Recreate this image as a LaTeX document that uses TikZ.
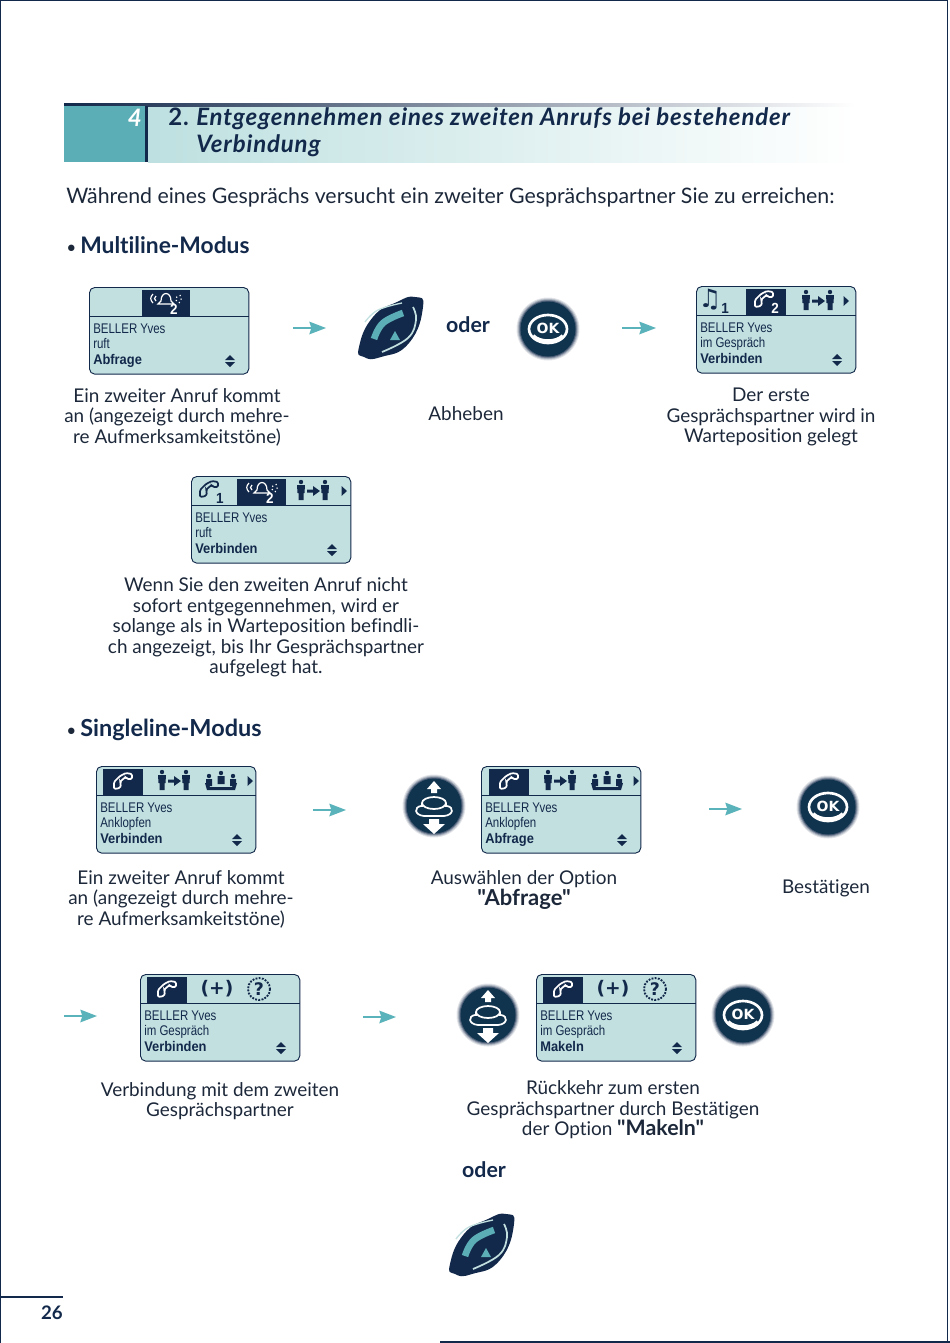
\documentclass[tikz,border=0pt]{standalone}
\usepackage{fontspec}
\newfontfamily\bodyfont[Ligatures=NoCommon]{Lato}
\newfontfamily\titlefont[Ligatures=NoCommon, LetterSpace=3.5]{Lato}
\newfontfamily\lcdfont[FakeStretch=0.82]{Liberation Sans}
\newfontfamily\lcdboldfont[FakeStretch=0.92]{Liberation Sans}
\newfontfamily\symfont{DejaVu Sans}
\usetikzlibrary{arrows.meta, positioning, calc}
\definecolor{PageNavy}{RGB}{19, 41, 75}
\definecolor{BodyInk}{RGB}{28, 40, 58}
\definecolor{LcdBlue}{RGB}{195, 224, 224}
\definecolor{BandTeal}{RGB}{92, 174, 182}
\definecolor{BandPale}{RGB}{190, 224, 224}
\definecolor{ArrTeal}{RGB}{90, 178, 186}
\definecolor{KeyNavy}{RGB}{16, 52, 78}
\tikzset{
  lcdbox/.style={rectangle, rounded corners=4pt, draw=PageNavy, fill=LcdBlue, line width=0.7pt,
                 minimum width=119.5pt, minimum height=65pt, anchor=north west, inner sep=0pt},
  lcdtext/.style={anchor=base west, inner sep=0pt, text=PageNavy, font=\lcdfont\fontsize{10.5}{10.5}\selectfont},
  lcdbold/.style={lcdtext, font=\lcdboldfont\bfseries\fontsize{10.5}{10.5}\selectfont},
  caption/.style={align=center, inner sep=0pt, text=BodyInk, font=\bodyfont\fontsize{14.2}{15.4}\selectfont},
  heading/.style={anchor=west, inner sep=0pt, text=BodyInk, font=\bodyfont\fontsize{16}{16}\selectfont},
  ortext/.style={inner sep=0pt, text=PageNavy, font=\bodyfont\bfseries\fontsize{16}{16}\selectfont},
  subnum/.style={inner sep=0pt, text=#1, font=\lcdboldfont\bfseries\fontsize{11}{11}\selectfont},
  arr/.style={-{Stealth[length=12.5pt, width=9.5pt, inset=1.5pt]}, line width=1pt, color=ArrTeal},
  person/.pic={
    \fill[PageNavy] (0,-9) circle (2.2);
    \fill[PageNavy] (-4,-6) -- (4,-6) -- (3.5,2) -- (2.5,2) -- (2.5,9) -- (-2.5,9) -- (-2.5,2) -- (-3.5,2) -- cycle;
  },
  transfer/.pic={
    \pic at (-12,0) {person};
    \pic at (12,0) {person};
    \fill[PageNavy] (-6,-1.5) -- (0,-1.5) -- (0,-5) -- (7,0) -- (0,5) -- (0,1.5) -- (-6,1.5) -- cycle;
  },
  conftable/.pic={
    \fill[PageNavy] (-16,2) -- (-13,2) -- (-11,6) -- (11,6) -- (13,2) -- (16,2) -- (14,9) -- (-14,9) -- cycle;
    \fill[PageNavy] (-12,-5) circle (2.2) (-15,-2) rectangle (-9,5);
    \fill[PageNavy] (0,-8) circle (2.2) (-3.5,-5) rectangle (3.5,3);
    \fill[PageNavy] (12,-5) circle (2.2) (9,-2) rectangle (15,5);
  },
  phone/.pic={
    \draw[#1, line width=1.3pt, rounded corners=1pt] (-9,8) -- (-9,1) -- (-3,-5) -- (3,-8) -- (9,-7) -- (9,-2) -- (4,-2) -- (3,-4) -- (0,-2) -- (-3,1) -- (-2,3) -- (-3,7) -- cycle;
  },
  bell/.pic={
    \draw[#1, line width=0.9pt] (-8,3) -- (-5,0) .. controls (-5,-10) and (5,-10) .. (5,0) -- (8,3) -- cycle;
    \draw[#1, line width=0.9pt] (-13,2) .. controls (-16,-1) and (-16,-4) .. (-13,-7);
    \draw[#1, line width=0.9pt] (-10,0) .. controls (-12,-2) and (-12,-3) .. (-10,-5);
    \draw[#1, line width=0.9pt, dotted] (13,2) .. controls (16,-1) and (16,-4) .. (13,-7);
    \draw[#1, line width=0.9pt, dotted] (10,0) .. controls (12,-2) and (12,-3) .. (10,-5);
    \node[subnum=#1] (two) at (8,8) {2};
  },
  updown/.pic={
    \fill[PageNavy] (-5,-1) -- (0,-6) -- (5,-1) -- cycle;
    \fill[PageNavy] (-5,1) -- (0,6) -- (5,1) -- cycle;
  },
  nexttab/.pic={
    \fill[PageNavy] (-2.5,-5) -- (3,0) -- (-2.5,5) -- cycle;
  },
  keydisc/.pic={
    \fill[PageNavy!12] (0,0) circle (31.5);
    \fill[PageNavy!28] (0,0) circle (30.5);
    \fill[PageNavy!50] (0,0) circle (29.5);
    \fill[PageNavy!75] (0,0) circle (28.5);
    \fill[KeyNavy] (0,0) circle (27.5);
  },
  okkey/.pic={
    \pic at (0,0) {keydisc};
    \draw[white, line width=2pt] (0,0) ellipse (19 and 14);
    \draw[white, line width=3pt] (-15,7) .. controls (-8,14) and (8,14) .. (15,7);
    \node[inner sep=0pt, text=white, font=\symfont\bfseries\fontsize{10.5}{10.5}\selectfont] (oklabel) at (0,-1) {OK};
  },
  navkey/.pic={
    \pic at (0,0) {keydisc};
    \fill[white] (-7,-17) -- (0,-25) -- (7,-17) -- (3,-17) -- (3,-13) -- (-3,-13) -- (-3,-17) -- cycle;
    \fill[white] (-11,18) -- (0,28) -- (11,18) -- (5,18) -- (5,13) -- (-5,13) -- (-5,18) -- cycle;
    \draw[white, line width=1.3pt] (0,-3) ellipse (12 and 6);
    \draw[white, line width=1.3pt] (-12,-3) -- (-12,1) (12,-3) -- (12,1);
    \draw[white, line width=1.3pt] (-13,0) .. controls (-20,1) and (-20,9) .. (-10,10) -- (10,10) .. controls (20,9) and (20,1) .. (13,0);
  },
  pickup/.pic={
    \fill[PageNavy] plot[smooth cycle, tension=0.9] coordinates {(-32,20) (-18,-10) (6,-25) (24,-30) (32,-20) (18,16) (-10,30) (-27,30)};
    \draw[LcdBlue, line width=1pt] plot[smooth, tension=0.7] coordinates {(-26,-5) (-13,-17) (11,-24)};
    \draw[LcdBlue, line width=1.3pt] plot[smooth, tension=0.7] coordinates {(22,-20) (25,-7) (17,11) (-9,25)};
    \draw[BandTeal, line width=5pt] plot[smooth, tension=0.7] coordinates {(-17,12) (-8,-4) (12,-14)};
    \fill[BandTeal] (-1,13) -- (4,4) -- (9,13) -- cycle;
  },
}
% one display: name, x, y, tab left, tab right, text line, soft key, icons
\newcommand{\lcdscreen}[8]{%
  \begin{scope}[shift={(#2,#3)}, name prefix=#1-]
    \node[lcdbox] (box) at (0,0) {};
    \fill[PageNavy] (#4,3) rectangle (#5,29);
    \draw[PageNavy, line width=0.7pt] (box.west |- 0,29) -- (box.east |- 0,29);
    \node[lcdtext] (name) at (4,46) {BELLER Yves};
    \node[lcdtext] (state) at (4,61) {#6};
    \node[lcdbold] (softkey) at (4,77) {#7};
    \pic at (141,74) {updown};
    #8
  \end{scope}}

\begin{document}
\begin{tikzpicture}[x=0.75pt, y=-0.75pt]
  \useasboundingbox (0,0) rectangle (950,1343);

  % Page frame
  \draw[PageNavy, line width=1.2pt] (0.5,1343) -- (0.5,0.5) -- (947.5,0.5) -- (947.5,1343);
  \draw[PageNavy, line width=0.8pt] (440,1342) -- (950,1342);
  \draw[PageNavy, line width=0.8pt] (0,1297) -- (63,1297);
  \node[inner sep=0pt, anchor=east, text=PageNavy, font=\bodyfont\bfseries\fontsize{14}{14}\selectfont] (pagenum) at (63,1313) {26};

  % Title band
  \shade[left color=BandPale, right color=white] (148,105) rectangle (855,162);
  \shade[left color=PageNavy, right color=white] (64,103) rectangle (855,106);
  \fill[BandTeal] (64,106) rectangle (145,162);
  \fill[PageNavy] (145,106) rectangle (148,162);
  \node[inner sep=0pt, anchor=east, text=white, font=\bodyfont\bfseries\itshape\fontsize{18}{18}\selectfont] (chapter) at (142,118) {4};
  \node[inner sep=0pt, anchor=base west, text=PageNavy, font=\titlefont\bfseries\fontsize{18}{18}\selectfont] (num) at (168,125) {2.};
  \node[inner sep=0pt, anchor=base west, text=PageNavy, font=\titlefont\bfseries\itshape\fontsize{18}{18}\selectfont] (title) at (196,125) {Entgegennehmen eines zweiten Anrufs bei bestehender};
  \node[inner sep=0pt, anchor=base west, text=PageNavy, font=\titlefont\bfseries\itshape\fontsize{18}{18}\selectfont] (titleb) at (196,152) {Verbindung};

  \node[heading] (intro) at (66,197.5) {Während eines Gesprächs versucht ein zweiter Gesprächspartner Sie zu erreichen:};

  % Multiline
  \node[heading] (multi) at (66,245) {{\fontsize{13}{13}\selectfont •}\hspace{3pt}\textcolor{PageNavy}{\fontsize{17.1}{17.1}\selectfont\textbf{Multiline-Modus}}};
  \lcdscreen{ringa}{89}{287}{53}{101}{ruft}{Abfrage}{%
    \pic at (77,14) {bell=white};}
  \lcdscreen{talka}{696}{286}{50}{90}{im Gespräch}{Verbinden}{%
    \node[inner sep=0pt, text=PageNavy, font=\symfont\bfseries\fontsize{19}{19}\selectfont] (note) at (14,14) {♫};
    \node[subnum=PageNavy] (one) at (29,22) {1};
    \pic at (68,13) {phone=white};
    \node[subnum=white] (two) at (79,22) {2};
    \pic at (122,15) {transfer};
    \pic at (150,15) {nexttab};}
  \lcdscreen{ringb}{191}{476}{46}{95}{ruft}{Verbinden}{%
    \pic at (18,13) {phone=PageNavy};
    \node[subnum=PageNavy] (one) at (29,22) {1};
    \pic at (71,14) {bell=white};
    \pic at (122,15) {transfer};
    \pic at (153,15) {nexttab};}

  \pic at (548,329) {okkey};
  \pic at (391,327) {pickup};
  \node[ortext] (ora) at (468,325) {oder};

  \node[caption] (capa) at (177,417) {Ein zweiter Anruf kommt\\an (angezeigt durch mehre-\\re Aufmerksamkeitstöne)};
  \node[caption] (capb) at (466,414) {Abheben};
  \node[caption] (capc) at (771,417) {Der erste\\Gesprächspartner wird in\\Warteposition gelegt};
  \node[caption] (capd) at (266,627.5) {Wenn Sie den zweiten Anruf nicht\\sofort entgegennehmen, wird er\\solange als in Warteposition befindli-\\ch angezeigt, bis Ihr Gesprächspartner\\aufgelegt hat.};

  % Singleline
  \node[heading] (single) at (66,730) {{\fontsize{13}{13}\selectfont •}\hspace{3pt}\textcolor{PageNavy}{\fontsize{17.6}{17.6}\selectfont\textbf{Singleline-Modus}}};
  \lcdscreen{knocka}{96}{766}{7}{47}{Anklopfen}{Verbinden}{%
    \pic at (27,15) {phone=white};
    \pic at (78,15) {transfer};
    \pic at (125,15) {conftable};
    \pic at (154,15) {nexttab};}
  \lcdscreen{knockb}{481}{766}{8}{48}{Anklopfen}{Abfrage}{%
    \pic at (28,15) {phone=white};
    \pic at (79,15) {transfer};
    \pic at (126,15) {conftable};
    \pic at (155,15) {nexttab};}
  \lcdscreen{secondb}{140}{974}{7}{47}{im Gespräch}{Verbinden}{%
    \pic at (27,15) {phone=white};
    \node[inner sep=0pt, text=PageNavy, font=\symfont\bfseries\fontsize{14}{14}\selectfont] (plus) at (77,15) {(+)};
    \draw[PageNavy, line width=1.4pt, densely dotted] (119,15) circle (11);
    \node[inner sep=0pt, text=PageNavy, font=\symfont\bfseries\fontsize{13}{13}\selectfont] (help) at (119,15) {?};}
  \lcdscreen{secondc}{536}{974}{7}{47}{im Gespräch}{Makeln}{%
    \pic at (27,15) {phone=white};
    \node[inner sep=0pt, text=PageNavy, font=\symfont\bfseries\fontsize{14}{14}\selectfont] (plus) at (77,15) {(+)};
    \draw[PageNavy, line width=1.4pt, densely dotted] (119,15) circle (11);
    \node[inner sep=0pt, text=PageNavy, font=\symfont\bfseries\fontsize{13}{13}\selectfont] (help) at (119,15) {?};}

  \pic at (434,806) {navkey};
  \pic at (828,807) {okkey};
  \pic at (488,1015) {navkey};
  \pic at (743,1015) {okkey};
  \pic at (482,1244) {pickup};
  \node[ortext] (orb) at (484,1170) {oder};

  \node[caption] (cape) at (181,899) {Ein zweiter Anruf kommt\\an (angezeigt durch mehre-\\re Aufmerksamkeitstöne)};
  \node[caption] (capf) at (524,890) {Auswählen der Option\\{\fontsize{16.5}{15.4}\selectfont\textbf{"Abfrage"}}};
  \node[caption] (capg) at (826,888.5) {Bestätigen};
  \node[caption] (caph) at (220,1101) {Verbindung mit dem zweiten\\Gesprächspartner};
  \node[caption] (capi) at (613,1110) {Rückkehr zum ersten\\Gesprächspartner durch Bestätigen\\der Option {\fontsize{16}{15.4}\selectfont\textbf{"Makeln"}}};

  % Arrows
  \coordinate (aa) at (293,328);  \coordinate (ab) at (326,328);
  \coordinate (ba) at (622,328);  \coordinate (bb) at (656,328);
  \coordinate (ca) at (313,810);  \coordinate (cb) at (346,810);
  \coordinate (da) at (709,809);  \coordinate (db) at (742,809);
  \coordinate (ea) at (64,1016);  \coordinate (eb) at (97,1016);
  \coordinate (fa) at (363,1017); \coordinate (fb) at (396,1017);
  \draw[arr] (aa) -- (ab);
  \draw[arr] (ba) -- (bb);
  \draw[arr] (ca) -- (cb);
  \draw[arr] (da) -- (db);
  \draw[arr] (ea) -- (eb);
  \draw[arr] (fa) -- (fb);
\end{tikzpicture}
\end{document}
